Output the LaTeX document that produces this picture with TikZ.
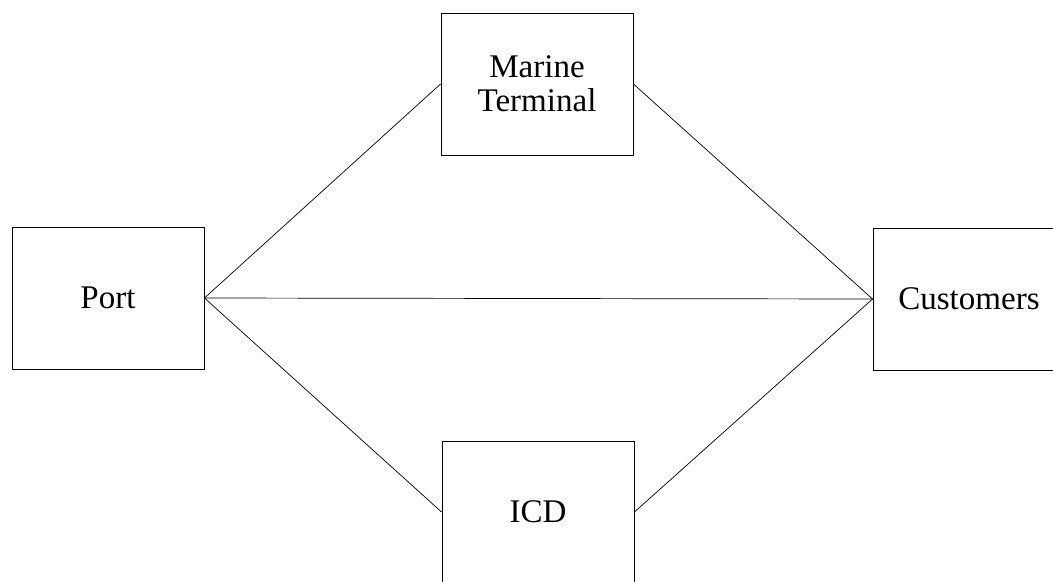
\documentclass[tikz,border=0pt]{standalone}
\usepackage{fontspec}
\setmainfont{Liberation Serif}
\usepackage{tikz}
\usetikzlibrary{positioning}

\begin{document}
\begin{tikzpicture}[
  x=0.025cm, y=-0.025cm,
  site/.style={draw, line width=0.6pt, minimum width=4.8cm, minimum height=3.55cm, inner sep=0pt, font=\fontsize{23.5}{24}\selectfont, align=center},
  link/.style={line width=0.5pt}
]

% ── Frame ────────────────────────────────────────────────────
\useasboundingbox (0,0) rectangle (1053,581);
\clip (0,0) rectangle (1053,581);

% ── Sites ────────────────────────────────────────────────────
\node[site] (port) at (108,298)   {Port};
\node[site] (mt)   at (537,84)    {Marine\\Terminal};
\node[site] (icd)  at (538,512)   {ICD};
\node[site] (cust) at (969,299)   {Customers};

% ── Links ────────────────────────────────────────────────────
\draw[link] (port.east) -- (mt.west);
\draw[link] (mt.east)   -- (cust.west);
\draw[link] (port.east) -- (cust.west);
\draw[link] (port.east) -- (icd.west);
\draw[link] (icd.east)  -- (cust.west);

\end{tikzpicture}
\end{document}
